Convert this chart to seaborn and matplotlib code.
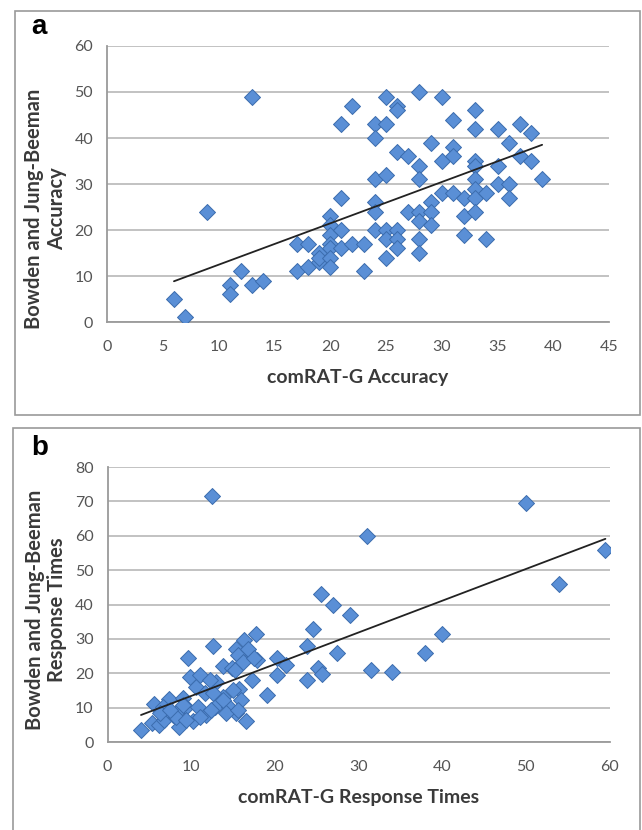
import numpy as np
import pandas as pd
import matplotlib
matplotlib.use("Agg")
import matplotlib.pyplot as plt
import seaborn as sns
from matplotlib.patches import Rectangle

# panel a: accuracy
acc_comrat = [6, 7, 9, 11, 11, 12, 13, 13, 14,
              17, 17, 18, 18, 19, 19, 19, 20, 20, 20, 20, 20, 20, 20, 21, 21, 21, 21, 22, 22, 23, 23,
              24, 24, 24, 24, 24, 24, 25, 25, 25, 25, 25, 25, 26, 26, 26, 26, 26, 26, 27, 27,
              28, 28, 28, 28, 28, 28, 28, 29, 29, 29, 29, 30, 30, 30, 31, 31, 31, 31, 32, 32, 32,
              33, 33, 33, 33, 33, 33, 33, 33, 34, 34, 35, 35, 35, 36, 36, 36, 37, 37, 38, 38, 39]
acc_bowden = [5, 1, 24, 8, 6, 11, 8, 49, 9,
              17, 11, 17, 12, 15, 13, 14, 23, 21, 19, 17, 16, 14, 12, 27, 20, 16, 43, 47, 17, 17, 11,
              43, 40, 31, 26, 24, 20, 49, 43, 32, 20, 18, 14, 47, 46, 37, 20, 18, 16, 36, 24,
              50, 34, 31, 24, 22, 18, 15, 39, 26, 24, 21, 49, 35, 28, 44, 38, 36, 28, 27, 23, 19,
              46, 42, 35, 34, 31, 29, 27, 24, 28, 18, 42, 34, 30, 39, 30, 27, 43, 36, 41, 35, 31]

# panel b: response times
rt_comrat = [4, 5.3, 5.6, 6.2, 6.8, 7.4, 7.8, 8.4, 8.6, 9, 9.4, 9.6, 9.8, 10.2, 10.6, 10.8, 11,
             11.6, 11.8, 12.5, 12.6, 12.8, 13, 13.8, 13.8, 14.5, 14.9, 15.3, 15.3, 15.7, 15.9, 15.9,
             16.3, 16.5, 17.3, 17.7, 17.9, 19.1, 20.3, 20.3, 21.3, 23.8, 23.8, 24.6, 25.2, 25.6,
             25.5, 27, 27.4, 29, 31, 31.5, 34, 38, 40, 50, 54, 59.5,
             8.2, 9.4, 11, 12.2, 12.6, 12.4, 13.8, 14.2, 15.2, 15.6, 15, 15.6, 16.2, 16.8, 9,
             6.6, 6.3, 7.5, 17.5]
rt_bowden = [3.5, 5.5, 11, 5, 6.5, 12.5, 8, 9, 4.5, 12.8, 10.3, 24.4, 18.9, 6, 16, 10.3, 19.5,
             14.2, 8, 71.5, 28, 10.3, 17.6, 22, 13.2, 10.3, 21.5, 27, 8.4, 15.4, 24.4, 12.3,
             29.7, 6, 18, 31.3, 23.9, 13.7, 24.4, 19.5, 22.4, 28, 18, 33, 21.5, 19.7,
             43, 40, 26, 37, 60, 21, 20.5, 26, 31.5, 69.5, 46, 56,
             7.4, 6.4, 7.4, 18, 14.2, 9.4, 12.2, 8.3, 21, 25.3, 15.1, 9.3, 23.3, 27.2, 10.8,
             10.3, 8.4, 9.4, 24.5]

df_a = pd.DataFrame({"x": acc_comrat, "y": acc_bowden})
df_b = pd.DataFrame({"x": rt_comrat, "y": rt_bowden})

sns.set_theme(style="white")
plt.rcParams["font.family"] = ["Lato", "DejaVu Sans"]

fig = plt.figure(figsize=(6.42, 8.30), dpi=100)

# panel frames
fig.patches.append(Rectangle((0.0234, 0.5), 0.974, 0.4867, transform=fig.transFigure,
                             fill=False, edgecolor="#9a9a9a", linewidth=1.2))
fig.patches.append(Rectangle((0.020, -0.01), 0.977, 0.4943, transform=fig.transFigure,
                             fill=False, edgecolor="#9a9a9a", linewidth=1.2))

ax_a = fig.add_axes([0.1667, 0.612, 0.782, 0.3326])
ax_b = fig.add_axes([0.1675, 0.106, 0.782, 0.3313])

panels = [
    (ax_a, df_a, 45, 5, 60, "comRAT-G Accuracy", "Bowden and Jung-Beeman\nAccuracy", "a"),
    (ax_b, df_b, 60, 10, 80, "comRAT-G Response Times", "Bowden and Jung-Beeman\nResponse Times", "b"),
]

for ax, d, xmax, xstep, ymax, xlab, ylab, tag in panels:
    ax.grid(axis="y", color="#bdbdbd", linewidth=1.3, zorder=0)
    ax.set_axisbelow(True)
    sns.regplot(data=d, x="x", y="y", scatter=False, ci=None, ax=ax,
                line_kws={"color": "#222222", "linewidth": 1.3, "zorder": 4})
    sns.scatterplot(data=d, x="x", y="y", marker="D", s=66, color="#5a8fd6",
                    edgecolor="#3b6cae", linewidth=0.7, ax=ax, zorder=3)
    ax.set_xlim(0, xmax)
    ax.set_ylim(0, ymax)
    ax.set_xticks(np.arange(0, xmax + 1, xstep))
    ax.set_yticks(np.arange(0, ymax + 1, 10))
    for s in ["top", "right"]:
        ax.spines[s].set_visible(False)
    for s in ["left", "bottom"]:
        ax.spines[s].set_color("#9a9a9a")
        ax.spines[s].set_linewidth(1.3)
    ax.tick_params(axis="both", direction="out", length=4, width=1.2, color="#9a9a9a",
                   labelsize=11.5, labelcolor="#555555")
    ax.tick_params(axis="x", pad=9)
    ax.tick_params(axis="y", pad=6)
    ax.set_xlabel(xlab, fontsize=14, fontweight="bold", color="#3a3a3a")
    ax.set_ylabel(ylab, fontsize=14.5, fontweight="bold", color="#3a3a3a", linespacing=1.15)
    ax.xaxis.set_label_coords(0.5, -0.17)
    ax.text(-0.135, 1.07, tag, transform=ax.transAxes, fontsize=20, fontweight="bold",
            color="black", family=["Liberation Sans", "DejaVu Sans"], ha="center", va="center")

ax_a.yaxis.set_label_coords(-0.08, 0.41)
ax_b.yaxis.set_label_coords(-0.08, 0.48)

fig.savefig("out.png", dpi=100)
